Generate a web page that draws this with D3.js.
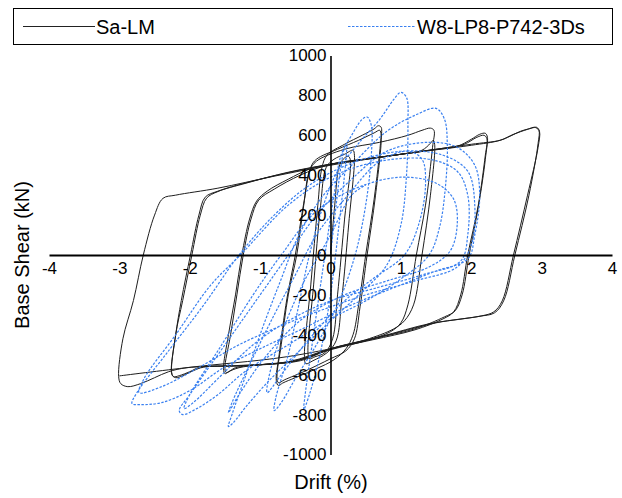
<!DOCTYPE html>
<html>
<head>
<meta charset="utf-8">
<script src="https://cdn.jsdelivr.net/npm/d3@7/dist/d3.min.js"></script>
<style>
  html, body { margin: 0; padding: 0; background: #fff; }
  svg { display: block; font-family: "Liberation Sans", Arial, sans-serif; }
</style>
</head>
<body>
<svg id="chart" width="622" height="498"></svg>
<script>
// Axis ticks
const driftTicks = [-4, -3, -2, -1, 0, 1, 2, 3, 4];
const shearTicks = [-1000, -800, -600, -400, -200, 0, 200, 400, 600, 800, 1000];

// Series names
const seriesNames = ["Sa-LM", "W8-LP8-P742-3Ds"];

// Sa-LM hysteresis path: [drift (%), base shear (kN)]
const saLM = [
  [0,0],[0.06,250],[0.12,440],[0.18,480],[0.25,495],[0.28,480],[0.2,180],[0.1,-200],[0.03,-420],
  [-0.08,-490],[-0.22,-510],[-0.3,-520],[-0.32,-490],[-0.24,-150],[-0.14,250],[-0.06,440],
  [0.05,480],[0.2,505],[0.32,525],[0.34,500],[0.26,160],[0.16,-220],[0.08,-430],[-0.05,-490],
  [-0.25,-530],[-0.35,-545],[-0.37,-510],[-0.28,-150],[-0.18,250],[-0.12,440],
  [-0.05,500],[0.2,555],[0.45,600],[0.62,632],[0.68,648],[0.72,640],[0.71,560],[0.62,280],[0.5,0],
  [0.4,-250],[0.32,-400],[0.22,-470],[0.05,-525],[-0.2,-570],[-0.5,-615],[-0.68,-642],[-0.74,-655],
  [-0.77,-630],[-0.73,-500],[-0.62,-220],[-0.5,0],[-0.38,260],[-0.28,440],[-0.2,480],
  [0.1,530],[0.4,575],[0.62,612],[0.7,625],[0.72,600],[0.64,300],[0.52,0],[0.42,-260],[0.34,-420],
  [0.22,-480],[0,-520],[-0.35,-580],[-0.65,-625],[-0.74,-640],[-0.76,-610],[-0.7,-450],[-0.6,-200],
  [-0.48,0],[-0.38,250],[-0.3,420],[-0.2,470],
  [0.2,530],[0.7,565],[1.1,600],[1.3,625],[1.42,636],[1.47,625],[1.45,540],[1.35,250],[1.22,0],
  [1.1,-250],[1.0,-340],[0.85,-385],[0.5,-430],[0,-475],[-0.5,-530],[-1.0,-550],[-1.3,-565],
  [-1.45,-585],[-1.5,-595],[-1.52,-570],[-1.45,-400],[-1.35,-200],[-1.26,0],[-1.15,180],[-1.05,270],
  [-0.9,320],[-0.6,380],[-0.3,430],
  [0,455],[0.5,480],[1.0,505],[1.3,525],[1.42,560],[1.46,575],[1.48,555],[1.42,300],[1.3,0],
  [1.18,-250],[1.05,-330],[0.9,-370],[0.5,-425],[0,-470],[-0.5,-532],[-1.0,-550],[-1.35,-565],
  [-1.48,-590],[-1.5,-570],[-1.42,-400],[-1.33,-200],[-1.24,0],[-1.13,180],[-1.02,275],[-0.8,330],
  [-0.43,400],
  [0,455],[0.7,490],[1.4,525],[1.8,545],[2.0,580],[2.12,605],[2.2,610],[2.23,590],[2.2,500],
  [2.1,250],[1.95,0],[1.85,-200],[1.75,-285],[1.6,-320],[1.2,-375],[0.6,-425],[0,-472],[-0.5,-532],
  [-1.2,-555],[-1.8,-562],[-1.95,-580],[-2.1,-605],[-2.2,-615],[-2.25,-600],[-2.2,-400],[-2.1,-228],
  [-1.97,0],[-1.85,200],[-1.76,285],[-1.6,318],[-1.2,360],[-0.6,415],
  [0,455],[0.8,495],[1.6,535],[1.9,555],[2.08,590],[2.18,600],[2.22,585],[2.2,480],[2.1,240],
  [1.97,0],[1.87,-200],[1.77,-280],[1.62,-310],[1.2,-370],[0.6,-420],[0,-470],[-0.6,-535],
  [-1.3,-555],[-1.85,-562],[-2.0,-585],[-2.15,-605],[-2.23,-610],[-2.26,-590],[-2.2,-400],
  [-2.12,-228],[-1.99,0],[-1.87,200],[-1.78,290],[-1.6,320],[-1.0,380],
  [0,455],[1.0,505],[2.0,555],[2.41,575],[2.55,595],[2.7,620],[2.85,635],[2.93,640],[2.97,620],
  [2.95,540],[2.8,300],[2.6,0],[2.44,-230],[2.32,-285],[2.15,-305],[1.88,-320],[1.41,-344],
  [0.7,-410],[0,-470],[-0.43,-530],[-1.38,-555],[-2.04,-565],[-2.3,-585],[-2.5,-615],[-2.7,-645],
  [-2.88,-660],[-2.98,-645],[-3.01,-610],[-2.95,-420],[-2.8,-228],[-2.66,0],[-2.5,200],[-2.38,284],
  [-2.2,300],[-1.6,335],[-0.8,395],[0,450],[1.0,505],[2.0,550],[2.41,575],[2.6,605],[2.8,630],
  [2.9,640],[2.96,625],[2.95,560],[2.82,300],[2.62,0],[2.46,-230],[2.33,-290],[2.1,-308],
  [1.5,-340],[0.7,-412],[0,-470],[-0.72,-515],[-2.0,-563],[-3.0,-606]
];

// W8-LP8-P742-3Ds hysteresis path: [drift (%), base shear (kN)]
const w8 = [
  [0,0],[0.08,250],[0.15,450],[0.2,540],[0.23,560],[0.22,480],[0.12,150],[0.0,-200],[-0.15,-500],
  [-0.3,-700],[-0.38,-775],[-0.36,-700],[-0.25,-420],[-0.1,-50],[0.05,300],[0.15,500],
  [0.3,600],[0.45,680],[0.52,692],[0.58,650],[0.58,500],[0.5,250],[0.35,0],[0.1,-250],[-0.2,-450],
  [-0.5,-620],[-0.7,-740],[-0.8,-780],[-0.78,-720],[-0.6,-500],[-0.45,-250],[-0.3,0],[-0.1,250],
  [0.1,420],
  [0.4,560],[0.7,680],[0.9,780],[1.0,815],[1.08,790],[1.1,650],[1.08,400],[1.0,150],[0.8,-50],
  [0.4,-200],[0,-330],[-0.5,-500],[-0.9,-640],[-1.2,-760],[-1.38,-840],[-1.45,-860],[-1.4,-800],
  [-1.2,-600],[-0.95,-350],[-0.7,-120],[-0.45,100],[-0.1,300],
  [0.3,450],[0.8,620],[1.2,700],[1.5,735],[1.62,680],[1.66,550],[1.63,330],[1.55,140],[1.4,0],
  [1.0,-120],[0.5,-230],[0,-320],[-0.6,-450],[-1.2,-580],[-1.6,-700],[-1.9,-770],[-2.1,-800],
  [-2.15,-780],[-2.0,-700],[-1.5,-450],[-1.0,-200],[-0.6,0],[-0.2,200],[0.3,380],
  [0.8,520],[1.4,565],[1.8,540],[2.05,450],[2.12,300],[2.05,100],[1.95,-20],[1.5,-80],[1.0,-150],
  [0.3,-250],[-0.4,-370],[-1.0,-470],[-1.5,-560],[-2.0,-680],[-2.4,-740],[-2.7,-750],[-2.82,-745],
  [-2.75,-690],[-2.3,-480],[-1.8,-250],[-1.3,0],[-0.8,200],[-0.3,350],[0.3,460],
  [1.0,520],[1.6,500],[1.95,420],[2.05,250],[2.0,50],[1.8,-60],[1.2,-130],[0.5,-200],[0,-260],
  [-0.6,-340],[-1.3,-450],[-1.9,-570],[-2.4,-660],[-2.72,-690],[-2.65,-620],[-2.2,-400],[-1.7,-150],
  [-1.28,0],[-0.6,250],[0,390],
  [0.7,470],[1.4,480],[1.8,420],[1.95,300],[1.95,100],[1.85,-30],[1.3,-100],[0.6,-170],[0.0,-230],
  [-0.6,-330],[-1.1,-450],[-1.6,-620],[-1.95,-740],[-2.08,-770],[-2.0,-700],[-1.6,-480],[-1.1,-200],
  [-0.7,0],[-0.2,220],[0.4,340],
  [1.0,390],[1.5,360],[1.75,280],[1.8,150],[1.7,20],[1.4,-60],[0.8,-130],[0.2,-200],[-0.4,-320],
  [-0.9,-500],[-1.3,-700],[-1.45,-790],[-1.4,-740],[-1.15,-550],[-0.8,-300],[-0.5,-100],[-0.2,100],
  [0.2,280],
  [0.7,470],[1.1,520],[1.3,480],[1.35,350],[1.25,150],[1.05,0],[0.6,-120],[0.2,-230],[-0.3,-420],
  [-0.7,-600],[-0.9,-690],[-0.88,-620],[-0.7,-400],[-0.4,-150],[0,100],[0.3,300],[0.5,350]
];

const svg = d3.select("#chart");

const x = d3.scaleLinear().domain([-4, 4]).range([49, 612]);
const y = d3.scaleLinear().domain([-1000, 1000]).range([454.5, 55.5]);

const line = d3.line()
  .x(d => x(d[0]))
  .y(d => y(d[1]))
  .curve(d3.curveCatmullRom.alpha(0.5));

// Plain hyphen-minus tick text
const plainNumber = d => String(d);

// Legend
const legend = svg.append("g");
legend.append("rect")
  .attr("x", 13.5).attr("y", 8.5).attr("width", 599).attr("height", 36)
  .attr("fill", "#fff").attr("stroke", "#000").attr("stroke-width", 1);
legend.append("line")
  .attr("x1", 23).attr("x2", 95).attr("y1", 26.5).attr("y2", 26.5)
  .attr("stroke", "#222").attr("stroke-width", 1);
legend.append("text")
  .attr("x", 96).attr("y", 33.5)
  .attr("font-size", 20).attr("fill", "#000")
  .text(seriesNames[0]);
legend.append("line")
  .attr("x1", 348).attr("x2", 415).attr("y1", 26.5).attr("y2", 26.5)
  .attr("stroke", "#3a80f0").attr("stroke-width", 1.2).attr("stroke-dasharray", "2.5,1.5");
legend.append("text")
  .attr("x", 417).attr("y", 33.5)
  .attr("font-size", 20).attr("fill", "#000")
  .text(seriesNames[1]);

// Series curves
svg.append("path")
  .datum(saLM)
  .attr("fill", "none")
  .attr("stroke", "#1e1e1e")
  .attr("stroke-width", 1)
  .attr("stroke-linejoin", "round")
  .attr("d", line);

svg.append("path")
  .datum(w8)
  .attr("fill", "none")
  .attr("stroke", "#3a80f0")
  .attr("stroke-width", 1.2)
  .attr("stroke-dasharray", "2.5,1.5")
  .attr("d", line);

// Axes crossing at the origin
const xAxis = svg.append("g")
  .attr("transform", `translate(0,${y(0)})`)
  .call(d3.axisBottom(x).tickValues(driftTicks).tickSize(0).tickPadding(7)
    .tickFormat(plainNumber));
xAxis.select(".domain").attr("stroke", "#000").attr("stroke-width", 2);
xAxis.selectAll("text")
  .attr("font-size", 17).attr("font-family", "Liberation Sans, Arial, sans-serif").attr("fill", "#000");

const yAxis = svg.append("g")
  .attr("transform", `translate(${x(0)},0)`)
  .call(d3.axisLeft(y).tickValues(shearTicks).tickSize(0).tickPadding(4)
    .tickFormat(plainNumber));
yAxis.select(".domain").attr("stroke", "#000").attr("stroke-width", 1.6);
yAxis.selectAll("text")
  .attr("font-size", 17).attr("font-family", "Liberation Sans, Arial, sans-serif").attr("fill", "#000");

// Axis titles
svg.append("text")
  .attr("x", 331).attr("y", 489)
  .attr("text-anchor", "middle")
  .attr("font-size", 20).attr("fill", "#000")
  .text("Drift (%)");

svg.append("text")
  .attr("transform", "translate(29,255) rotate(-90)")
  .attr("text-anchor", "middle")
  .attr("font-size", 20).attr("fill", "#000")
  .text("Base Shear (kN)");
</script>
</body>
</html>
